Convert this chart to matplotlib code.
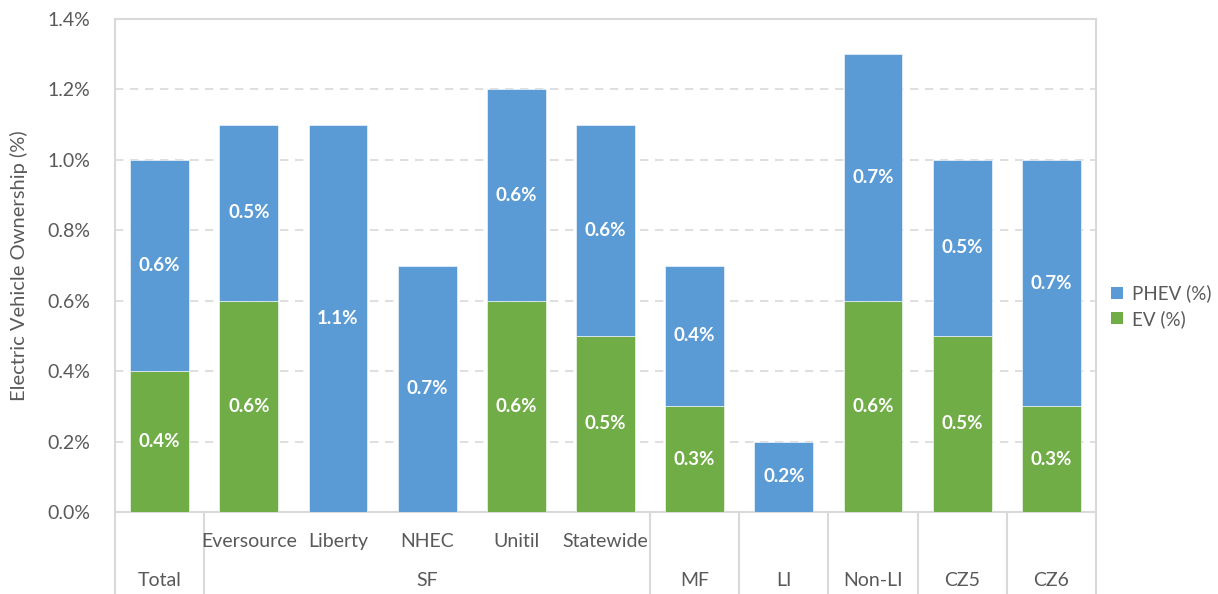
import matplotlib
matplotlib.use("Agg")
import matplotlib.pyplot as plt
import matplotlib.transforms as mtransforms
from matplotlib.patches import Patch
from matplotlib.ticker import FuncFormatter

plt.rcParams['font.family'] = ['Lato', 'DejaVu Sans']

# categories (sub-level) and their groups
SUB_LABELS = ['', 'Eversource', 'Liberty', 'NHEC', 'Unitil', 'Statewide', '', '', '', '', '']
GROUPS = [('Total', 0, 0), ('SF', 1, 5), ('MF', 6, 6), ('LI', 7, 7),
          ('Non-LI', 8, 8), ('CZ5', 9, 9), ('CZ6', 10, 10)]

EV = [0.4, 0.6, 0.0, 0.0, 0.6, 0.5, 0.3, 0.0, 0.6, 0.5, 0.3]
PHEV = [0.6, 0.5, 1.1, 0.7, 0.6, 0.6, 0.4, 0.2, 0.7, 0.5, 0.7]

EV_COLOR = '#70AD47'
PHEV_COLOR = '#5B9BD5'
TEXT_COLOR = '#595959'
LINE_COLOR = '#D9D9D9'

fig = plt.figure(figsize=(12.18, 5.94), dpi=100)
ax = fig.add_axes([115 / 1218, 1 - 512 / 594, (1096 - 115) / 1218, (512 - 19) / 594])

x = list(range(len(EV)))
width = 0.66
ax.bar(x, EV, width, color=EV_COLOR, edgecolor='white', linewidth=0.4, zorder=3)
ax.bar(x, PHEV, width, bottom=EV, color=PHEV_COLOR, edgecolor='white', linewidth=0.4, zorder=3)

for i in x:
    if EV[i] > 0:
        ax.text(i, EV[i] / 2, f"{EV[i]:.1f}%", ha='center', va='center',
                color='white', fontsize=13.5, fontweight='bold', zorder=4)
    if PHEV[i] > 0:
        ax.text(i, EV[i] + PHEV[i] / 2, f"{PHEV[i]:.1f}%", ha='center', va='center',
                color='white', fontsize=13.5, fontweight='bold', zorder=4)

ax.set_xlim(-0.5, len(EV) - 0.5)
ax.set_ylim(0, 1.4)
ax.set_yticks([0, 0.2, 0.4, 0.6, 0.8, 1.0, 1.2, 1.4])
ax.yaxis.set_major_formatter(FuncFormatter(lambda v, p: f"{v:.1f}%"))
ax.tick_params(axis='y', length=0, labelsize=14, labelcolor=TEXT_COLOR, pad=18)
ax.set_xticks([])
ax.grid(axis='y', color=LINE_COLOR, linestyle=(0, (5, 4)), linewidth=1.2, zorder=0)
for s in ax.spines.values():
    s.set_color(LINE_COLOR)
    s.set_linewidth(1.5)

ax.set_ylabel('Electric Vehicle Ownership (%)', fontsize=14.5, color=TEXT_COLOR, labelpad=14)

# multi-level category axis
trans = mtransforms.blended_transform_factory(ax.transData, ax.transAxes)
bottom = -(594 - 512) / 493
seps = [-0.5] + [end + 0.5 for _, _, end in GROUPS]
for s in seps:
    ax.plot([s, s], [0, bottom], transform=trans, color=LINE_COLOR, linewidth=1.5,
            clip_on=False, zorder=1)
for i, lab in enumerate(SUB_LABELS):
    if lab:
        ax.text(i, -(547 - 512) / 493, lab, transform=trans, ha='center', va='baseline',
                fontsize=14, color=TEXT_COLOR)
for name, start, end in GROUPS:
    ax.text((start + end) / 2, -(586 - 512) / 493, name, transform=trans, ha='center',
            va='baseline', fontsize=14, color=TEXT_COLOR)

handles = [Patch(facecolor=PHEV_COLOR, label='PHEV (%)'),
           Patch(facecolor=EV_COLOR, label='EV (%)')]
fig.legend(handles=handles, loc='center left', bbox_to_anchor=(1100 / 1218, 1 - 306 / 594),
           frameon=False, fontsize=13.5, labelcolor=TEXT_COLOR, borderaxespad=0.2,
           handlelength=0.6, handleheight=0.6, handletextpad=0.5, labelspacing=0.4)

fig.savefig('out.png', dpi=100)
